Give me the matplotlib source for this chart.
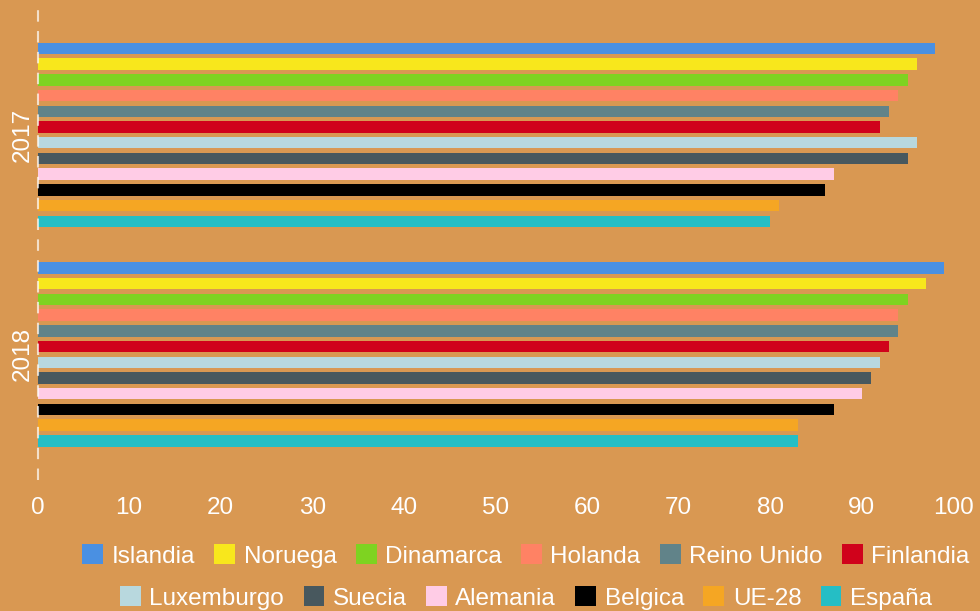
import numpy as np
import matplotlib
matplotlib.use("Agg")
import matplotlib.pyplot as plt

plt.rcParams['font.family'] = ['Liberation Sans', 'DejaVu Sans']

years = ["2017", "2018"]
countries = ["Islandia", "Noruega", "Dinamarca", "Holanda", "Reino Unido", "Finlandia",
             "Luxemburgo", "Suecia", "Alemania", "Belgica", "UE-28", "España"]
values_2017 = [98, 96, 95, 94, 93, 92, 96, 95, 87, 86, 81, 80]
values_2018 = [99, 97, 95, 94, 94, 93, 92, 91, 90, 87, 83, 83]
colors = ["#4A90E2", "#F8E71C", "#7ED321", "#FF8264", "#618389", "#D0021B",
          "#B8D8DE", "#48585E", "#FFCCE6", "#000000", "#F5A623", "#25BEC5"]
xticks = [0, 10, 20, 30, 40, 50, 60, 70, 80, 90, 100]

bg = "#D99852"
fig = plt.figure(figsize=(9.8, 6.11), dpi=100, facecolor=bg)
ax = fig.add_axes([37.5 / 980, 1 - 480 / 611, (953.3 - 37.5) / 980, 470 / 611])
ax.set_facecolor(bg)

n = len(countries)
slot = 0.0716
bar_h = 0.052
pos = np.arange(len(years))
handles = []
for i, c in enumerate(countries):
    vals = [values_2017[i], values_2018[i]]
    b = ax.barh(pos + (i - (n - 1) / 2) * slot, vals, height=bar_h, color=colors[i],
                label=c, zorder=2)
    handles.append(b)

# dashed zero line
ax.axvline(0, color="white", alpha=0.7, lw=1.5, ls=(0, (5.5, 4.5)), zorder=3,
           clip_on=False)

ax.set_xlim(0, 100)
ax.set_ylim(1.572, -0.569)
ax.set_xticks(xticks)
ax.set_xticklabels([str(t) for t in xticks], color="white", fontsize=17.5)
ax.set_yticks(pos)
ax.set_yticklabels(years, color="white", fontsize=17.5, rotation=90, va="center")
ax.tick_params(axis="x", length=0, pad=12)
ax.tick_params(axis="y", length=0, pad=3)
for s in ax.spines.values():
    s.set_visible(False)

leg_kw = dict(ncol=6, frameon=False, fontsize=17.5, labelcolor="white",
              handlelength=0.85, handleheight=0.85, handletextpad=0.35,
              columnspacing=0.8, borderaxespad=0, borderpad=0)
leg1 = fig.legend(handles[:6], countries[:6], loc="center",
                  bbox_to_anchor=(526 / 980, 1 - 556 / 611), **leg_kw)
leg2 = fig.legend(handles[6:], countries[6:], loc="center",
                  bbox_to_anchor=(526 / 980, 1 - 598 / 611), **leg_kw)

fig.savefig("out.png", dpi=100, facecolor=bg)
